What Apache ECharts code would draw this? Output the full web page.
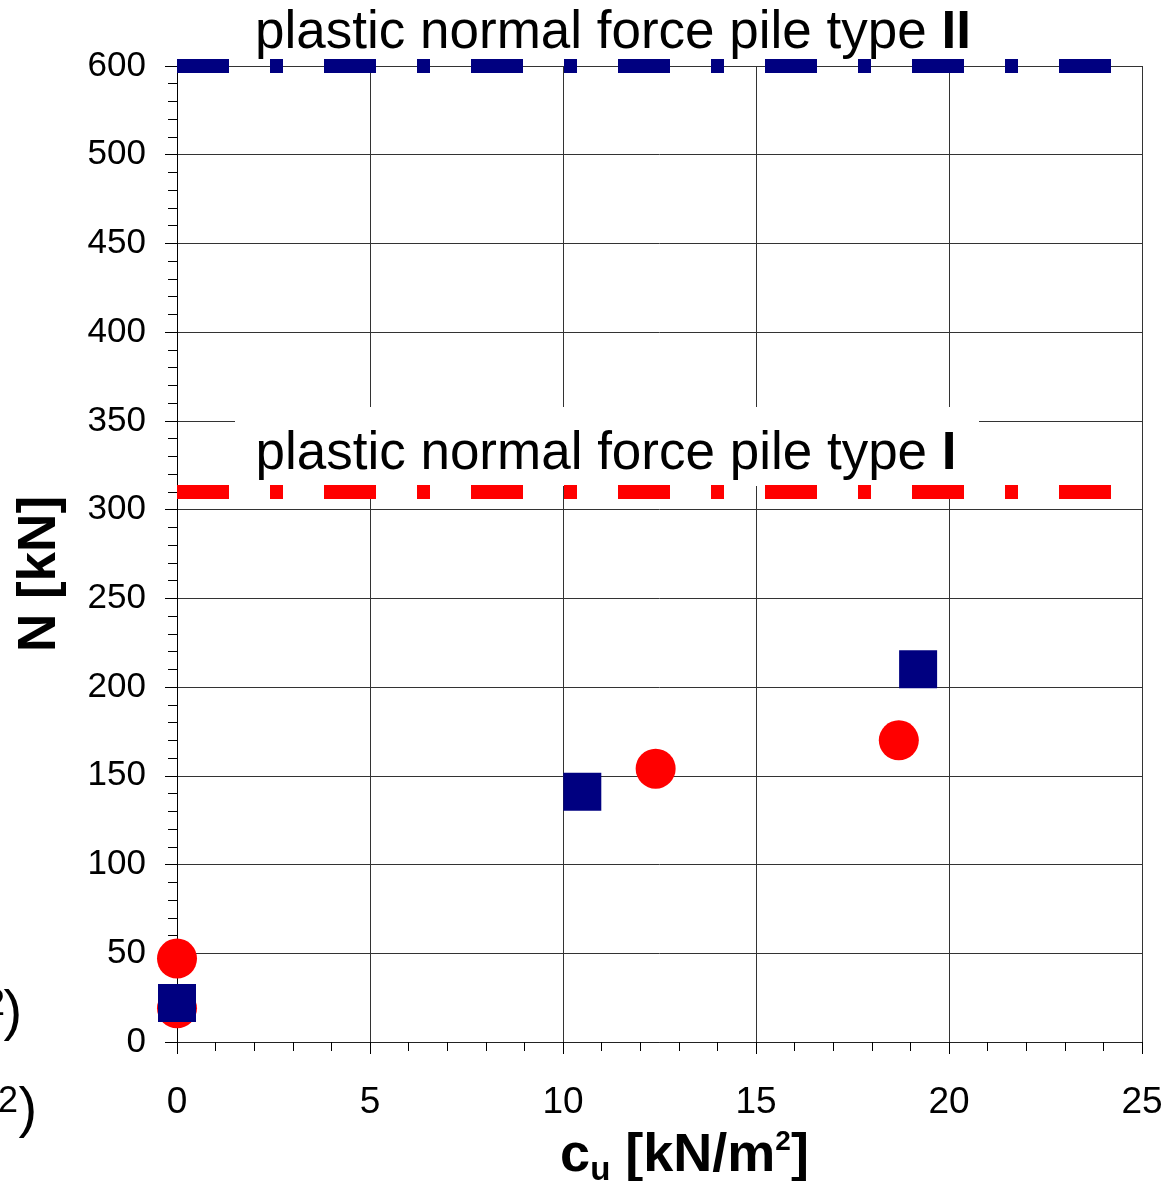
<!DOCTYPE html>
<html>
<head>
<meta charset="utf-8">
<title>plastic normal force pile</title>
<script src="https://cdn.jsdelivr.net/npm/echarts@6/dist/echarts.min.js"></script>
<style>
  html, body { margin: 0; padding: 0; background: #fff; }
  #chart { width: 1167px; height: 1181px; }
</style>
</head>
<body>
<div id="chart"></div>
<script>
// measured points (cu in kN/m2, N in kN)
var cuCircle = [0, 0, 12.4, 18.7];
var nCircle = [47, 19, 154, 170];
var cuSquare = [0, 10.5, 19.2];
var nSquare = [22, 141, 210];

// plastic normal force of the two pile types [kN]
var plasticI = 310;
var plasticII = 600;
var plasticFrom = 0;
var plasticTo = 25;

// y axis is broken above 500, the last tick stands for 600
var yTickLabels = ['0', '50', '100', '150', '200', '250', '300', '350', '400', '450', '500', '600'];
var yBreak = 500;

var font = 'Liberation Sans, Arial, sans-serif';

// value -> position on the (broken) y axis
function toAxis(v) {
	return v <= yBreak ? v : yBreak + (v - yBreak) / 2;
}

function pairs(xs, ys) {
	return xs.map(function (x, i) { return [x, toAxis(ys[i])]; });
}

var dash = [52, 41, 13, 41];

var myChart = echarts.init(document.getElementById('chart'));

var option = {
	animation: false,
	backgroundColor: '#fff',
	grid: {
		left: 177,
		right: 25,
		top: 66,
		bottom: 139,
		containLabel: false,
		outerBoundsMode: 'none'
	},
	xAxis: {
		type: 'value',
		min: 0,
		max: 25,
		interval: 5,
		name: '{m|c}{s|u}{m| [kN/m}{p|2}{m|]}',
		nameLocation: 'middle',
		nameGap: 74,
		nameMoveOverlap: false,
		nameTextStyle: {
			color: '#000',
			padding: [0, 0, 0, 50],
			rich: {
				m: { fontSize: 54, fontWeight: 'bold', fontFamily: font, lineHeight: 80, color: '#000' },
				s: { fontSize: 33, fontWeight: 'bold', fontFamily: font, verticalAlign: 'bottom', padding: [0, 0, 9, 0], color: '#000' },
				p: { fontSize: 28, fontWeight: 'bold', fontFamily: font, verticalAlign: 'top', padding: [12, 0, 0, 0], color: '#000' }
			}
		},
		axisLine: { show: true, onZero: false, lineStyle: { color: '#222', width: 1 } },
		axisTick: { show: true, length: 12, lineStyle: { color: '#000' } },
		minorTick: { show: true, splitNumber: 5, length: 9, lineStyle: { color: '#000' } },
		axisLabel: { color: '#000', fontSize: 37, fontFamily: font, margin: 42 },
		splitLine: { show: true, lineStyle: { color: '#333', width: 1 } }
	},
	yAxis: {
		type: 'value',
		min: 0,
		max: 550,
		interval: 50,
		name: 'N [kN]',
		nameLocation: 'middle',
		nameRotate: 90,
		nameGap: 110,
		nameMoveOverlap: false,
		nameTextStyle: { color: '#000', fontSize: 53, fontWeight: 'bold', fontFamily: font, padding: [0, 40, 0, 0] },
		axisLine: { show: true, onZero: false, lineStyle: { color: '#000', width: 1 } },
		axisTick: { show: true, length: 12, lineStyle: { color: '#000' } },
		minorTick: { show: true, splitNumber: 5, length: 9, lineStyle: { color: '#000' } },
		axisLabel: {
			color: '#000',
			fontSize: 35,
			fontFamily: font,
			margin: 31,
			formatter: function (v) { return yTickLabels[Math.round(v / 50)]; }
		},
		splitLine: { show: true, lineStyle: { color: '#333', width: 1 } }
	},
	graphic: [
		// white box behind the type I label, hides the grid
		{ type: 'rect', z: 1, shape: { x: 235, y: 407, width: 744, height: 79 }, style: { fill: '#fff' } },
		{
			type: 'text', z: 5, x: 606, y: 454,
			style: {
				text: 'plastic normal force pile type {r|I}',
				font: '53px ' + font, fill: '#000', align: 'center', verticalAlign: 'middle',
				rich: { r: { fontSize: 53, fontWeight: 'bold', fontFamily: font, fill: '#000' } }
			}
		},
		{
			type: 'text', z: 5, x: 613, y: 33,
			style: {
				text: 'plastic normal force pile type {r|II}',
				font: '53px ' + font, fill: '#000', align: 'center', verticalAlign: 'middle',
				rich: { r: { fontSize: 53, fontWeight: 'bold', fontFamily: font, fill: '#000' } }
			}
		},
		// cut off text at the left border
		{ type: 'text', z: 5, x: 5, y: 1005, style: { text: '2', font: '36px ' + font, fill: '#000', align: 'right', verticalAlign: 'middle' } },
		{ type: 'text', z: 5, x: 3.6, y: 1014, style: { text: ')', font: '56px ' + font, fill: '#000', align: 'left', verticalAlign: 'middle' } },
		{ type: 'text', z: 5, x: 18, y: 1102, style: { text: '2', font: '36px ' + font, fill: '#000', align: 'right', verticalAlign: 'middle' } },
		{ type: 'text', z: 5, x: 18.6, y: 1111, style: { text: ')', font: '56px ' + font, fill: '#000', align: 'left', verticalAlign: 'middle' } }
	],
	series: [
		{
			name: 'plastic I',
			type: 'line',
			symbol: 'none',
			clip: false,
			z: 3,
			data: [[plasticFrom, toAxis(plasticI)], [plasticTo, toAxis(plasticI)]],
			lineStyle: { color: '#ff0000', width: 14, type: dash, cap: 'butt' }
		},
		{
			name: 'plastic II',
			type: 'line',
			symbol: 'none',
			clip: false,
			z: 3,
			data: [[plasticFrom, toAxis(plasticII)], [plasticTo, toAxis(plasticII)]],
			lineStyle: { color: '#000080', width: 14, type: dash, cap: 'butt' }
		},
		{
			name: 'circles',
			type: 'scatter',
			symbol: 'circle',
			symbolSize: 40,
			clip: false,
			z: 4,
			itemStyle: { color: '#ff0000', opacity: 1 },
			data: pairs(cuCircle, nCircle)
		},
		{
			name: 'squares',
			type: 'scatter',
			symbol: 'rect',
			symbolSize: 38,
			clip: false,
			z: 4,
			itemStyle: { color: '#000080', opacity: 1 },
			data: pairs(cuSquare, nSquare)
		}
	]
};

myChart.setOption(option);
window.addEventListener('resize', myChart.resize);
</script>
</body>
</html>
